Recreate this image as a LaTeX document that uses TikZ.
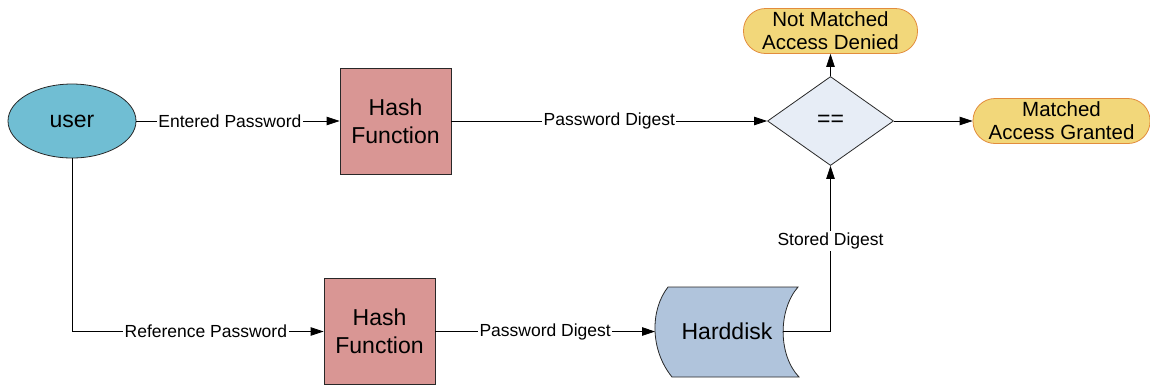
\documentclass[tikz,border=0pt]{standalone}
\usepackage{fontspec}
\setmainfont{Liberation Sans}
\usetikzlibrary{arrows.meta,shapes.geometric}

\definecolor{userfill}{RGB}{112,190,211}
\definecolor{hashfill}{RGB}{217,150,148}
\definecolor{cmpfill}{RGB}{231,237,246}
\definecolor{diskfill}{RGB}{176,196,220}
\definecolor{termfill}{RGB}{242,215,122}
\definecolor{termline}{RGB}{226,140,60}
\definecolor{edgeline}{RGB}{40,40,40}

\tikzset{
  shapeline/.style={draw=edgeline, line width=0.8pt},
  userbox/.style={shapeline, ellipse, fill=userfill, minimum width=128pt, minimum height=74pt,
    inner sep=0pt, font=\fontsize{23}{28}\selectfont},
  hashbox/.style={shapeline, rectangle, fill=hashfill, minimum width=111pt, minimum height=106pt,
    align=center, inner sep=0pt, font=\fontsize{23}{28}\selectfont},
  cmpbox/.style={shapeline, diamond, fill=cmpfill, minimum width=126pt, minimum height=89pt,
    inner sep=0pt, font=\fontsize{23}{28}\selectfont},
  termbox/.style={draw=termline, line width=0.8pt, fill=termfill, rectangle, rounded corners=22pt,
    minimum height=45pt, align=center, inner sep=0pt, font=\fontsize{20.5}{23}\selectfont},
  disktext/.style={inner sep=0pt, font=\fontsize{23}{28}\selectfont},
  flow/.style={draw=black, line width=0.8pt, -{Triangle[length=13pt,width=8.5pt]}},
  lbl/.style={fill=white, inner sep=1.5pt, font=\fontsize{17.5}{20}\selectfont}
}

\begin{document}
\begin{tikzpicture}[x=1pt,y=-1pt]
  \useasboundingbox (0,0) rectangle (1150,384);

  % storage shape of the hard disk
  \path[shapeline, fill=diskfill]
    (668,287) -- (798,287)
    .. controls (778,310) and (778,355) .. (799,377)
    -- (672,377)
    .. controls (650,350) and (650,310) .. (668,287) -- cycle;
  \coordinate (diskin) at (655,331.5);
  \coordinate (diskout) at (783,331.5);
  \node[disktext] (disk) at (727,331.5) {Harddisk};

  % nodes
  \node[userbox] (user) at (72,121) {user};
  \node[hashbox] (hashA) at (395.5,121) {Hash\\Function};
  \node[hashbox] (hashB) at (379.5,331.5) {Hash\\Function};
  \node[cmpbox] (cmp) at (830.5,121) {==};
  \node[termbox, minimum width=174pt] (deny) at (830.5,31) {Not Matched\\Access Denied};
  \node[termbox, minimum width=177pt] (grant) at (1061.5,121) {Matched\\Access Granted};

  % connectors
  \draw[flow] (user.east) -- node[lbl, pos=0.46] {Entered Password} (hashA.west);
  \draw[flow] (hashA.east) -- node[lbl, pos=0.5] {Password Digest} (cmp.west);
  \draw[flow] (cmp.north) -- (deny.south);
  \draw[flow] (cmp.east) -- (grant.west);
  \draw[flow] (user.south) |- node[lbl, pos=0.766] {Reference Password} (hashB.west);
  \draw[flow] (hashB.east) -- node[lbl, pos=0.5] {Password Digest} (diskin);
  \draw[flow] (diskout) -| node[lbl, pos=0.773] {Stored Digest} (cmp.south);
\end{tikzpicture}
\end{document}
